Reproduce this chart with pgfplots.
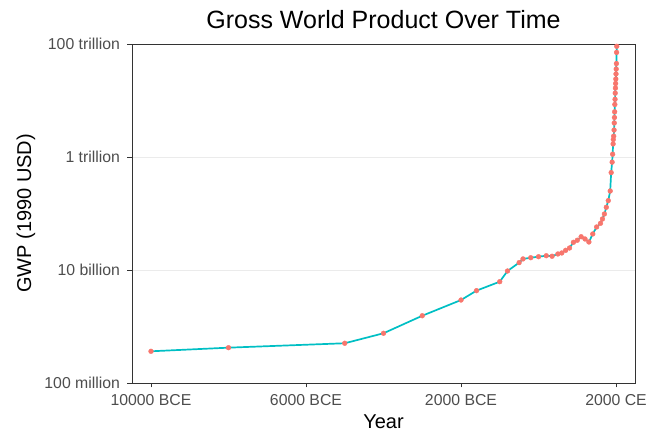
\documentclass[border=0pt]{standalone}
\usepackage{fontspec}
\setmainfont{Liberation Sans}
\usepackage{pgfplots}
\pgfplotsset{compat=1.18}
\definecolor{linecol}{HTML}{00BFC4}
\definecolor{ptcol}{HTML}{F8766D}
\definecolor{txtgray}{HTML}{4D4D4D}
\definecolor{axgray}{HTML}{333333}
\definecolor{gridgray}{HTML}{EBEBEB}

\begin{document}
\begin{tikzpicture}
\begin{axis}[
  name=ax,
  scale only axis, width=503bp, height=339bp,
  xmin=-10490, xmax=2490,
  ymode=log, log basis y=10, ymin=1e8, ymax=1e14,
  scaled x ticks=false,
  xtick={-10000,-6000,-2000,2000},
  xticklabels={10000 BCE,6000 BCE,2000 BCE,2000 CE},
  ytick={1e8,1e10,1e12,1e14},
  yticklabels={100 million,10 billion,1 trillion,100 trillion},
  minor tick length=0pt,
  tick align=outside, tick pos=left, major tick length=4.5bp,
  every tick/.style={axgray, line width=0.8bp},
  axis line style={axgray, line width=0.8bp},
  ymajorgrids, grid style={gridgray, line width=0.9bp},
  ticklabel style={font=\fontsize{15.8bp}{18bp}\selectfont, text=txtgray},
  xticklabel style={yshift=-3bp},
  yticklabel style={xshift=-4bp},
  xlabel={Year}, ylabel={GWP (1990 USD)},
  xlabel style={font=\fontsize{20bp}{24bp}\selectfont,
    at={(axis description cs:0.5,-0.115)}, anchor=center},
  ylabel style={font=\fontsize{20bp}{24bp}\selectfont,
    at={(axis description cs:-0.2107,0.5)}, anchor=center, rotate=0},
  title={Gross World Product Over Time},
  title style={font=\fontsize{25bp}{30bp}\selectfont,
    at={(axis description cs:0.5,1.055)}, anchor=center},
]
\addplot[color=linecol, line width=1.7bp, mark=*, mark size=2.4bp,
  mark options={solid, draw=ptcol, fill=ptcol, line width=0.4bp}] coordinates {
  (-10000, 3.64e8)
  (-8000, 4.22e8)
  (-5000, 5.05e8)
  (-4000, 7.59e8)
  (-3000, 1.55e9)
  (-2000, 2.94e9)
  (-1600, 4.31e9)
  (-1000, 6.21e9)
  (-800, 9.6e9)
  (-500, 1.35e10)
  (-400, 1.57e10)
  (-200, 1.65e10)
  (1, 1.72e10)
  (200, 1.79e10)
  (350, 1.75e10)
  (500, 1.92e10)
  (600, 2.0e10)
  (700, 2.23e10)
  (800, 2.45e10)
  (900, 3.09e10)
  (1000, 3.36e10)
  (1100, 3.88e10)
  (1200, 3.54e10)
  (1300, 3.13e10)
  (1400, 4.34e10)
  (1500, 5.77e10)
  (1600, 6.7e10)
  (1650, 8.0e10)
  (1700, 9.8e10)
  (1750, 1.29e11)
  (1800, 1.69e11)
  (1850, 2.5e11)
  (1875, 5.3e11)
  (1900, 8.1e11)
  (1913, 1.12e12)
  (1925, 1.7e12)
  (1930, 2.04e12)
  (1940, 2.34e12)
  (1950, 3.0e12)
  (1955, 4.0e12)
  (1960, 5.0e12)
  (1965, 6.3e12)
  (1970, 8.5e12)
  (1975, 1.05e13)
  (1980, 1.35e13)
  (1985, 1.66e13)
  (1990, 2.0e13)
  (1995, 2.4e13)
  (2000, 2.95e13)
  (2005, 3.6e13)
  (2010, 4.5e13)
  (2015, 7.1e13)
  (2019, 9.1e13)
};
\end{axis}
\pgfresetboundingbox
\path ([shift={(-132bp,-50bp)}]ax.south west) rectangle ([shift={(17bp,44bp)}]ax.north east);
\end{tikzpicture}
\end{document}
